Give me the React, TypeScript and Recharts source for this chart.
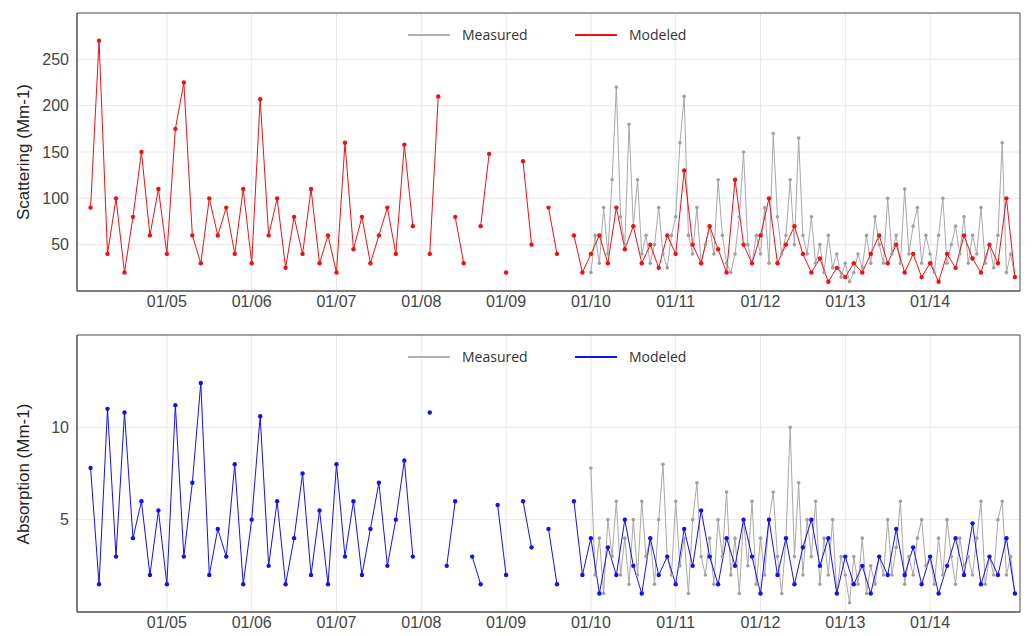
import React from "react";
import { ComposedChart, Line, XAxis, YAxis, CartesianGrid, ReferenceArea } from "recharts";

// x positions are months (5 = 01/05 ...), sampled every 0.1 (modeled) / 0.05 (measured)
const monthTicks = [5, 6, 7, 8, 9, 10, 11, 12, 13, 14];
const modeledStart = 4.1;
const measuredStart = 10.0;

const scatModeled = [
  90, 270, 40, 100, 20, 80, 150, 60, 110, 40,
  175, 225, 60, 30, 100, 60, 90, 40, 110, 30,
  207, 60, 100, 25, 80, 40, 110, 30, 60, 20,
  160, 45, 80, 30, 60, 90, 40, 158, 70, null,
  40, 210, null, 80, 30, null, 70, 148, null, 20,
  null, 140, 50, null, 90, 40, null, 60, 20, 40,
  60, 30, 90, 45, 70, 30, 50, 25, 60, 40,
  130, 50, 30, 70, 45, 20, 120, 50, 30, 60,
  100, 30, 50, 70, 40, 20, 35, 10, 25, 15,
  30, 20, 40, 60, 30, 50, 20, 40, 15, 30,
  10, 40, 25, 60, 35, 20, 50, 30, 100, 15,
];
const scatMeasured = [
  20, 60, 30, 90, 40, 120, 220, 80, 50, 180,
  70, 120, 40, 60, 30, 50, 90, 40, 25, 60,
  80, 160, 210, 60, 40, 90, 30, 50, 70, 40,
  120, 60, 30, 20, 40, 80, 150, 50, 30, 60,
  40, 90, 30, 170, 80, 40, 60, 120, 50, 165,
  60, 40, 80, 30, 50, 20, 60, 25, 40, 15,
  30, 10, 20, 40, 25, 60, 30, 80, 50, 30,
  100, 40, 60, 30, 110, 40, 70, 90, 30, 60,
  40, 20, 60, 100, 30, 50, 70, 40, 80, 30,
  60, 40, 90, 30, 50, 25, 60, 160, 20, 40, 15,
];
const absModeled = [
  7.8, 1.5, 11.0, 3.0, 10.8, 4.0, 6.0, 2.0, 5.5, 1.5,
  11.2, 3.0, 7.0, 12.4, 2.0, 4.5, 3.0, 8.0, 1.5, 5.0,
  10.6, 2.5, 6.0, 1.5, 4.0, 7.5, 2.0, 5.5, 1.5, 8.0,
  3.0, 6.0, 2.0, 4.5, 7.0, 2.5, 5.0, 8.2, 3.0, null,
  10.8, null, 2.5, 6.0, null, 3.0, 1.5, null, 5.8, 2.0,
  null, 6.0, 3.5, null, 4.5, 1.5, null, 6.0, 2.0, 4.0,
  1.0, 3.5, 2.0, 5.0, 2.5, 1.0, 4.0, 2.0, 3.0, 1.5,
  4.5, 2.5, 5.5, 3.0, 1.5, 4.0, 2.5, 5.0, 3.0, 1.0,
  5.0, 2.0, 4.0, 1.5, 3.5, 5.0, 2.5, 4.0, 1.0, 3.0,
  1.5, 2.5, 1.0, 3.0, 2.0, 4.5, 2.0, 3.5, 1.5, 3.0,
  1.0, 2.5, 4.0, 2.0, 4.8, 1.5, 3.0, 2.0, 4.0, 1.0,
];
const absMeasured = [
  7.8, 2, 4, 1, 5, 3, 6, 2, 4, 1.5,
  5, 2, 6, 3, 4, 1.5, 5, 8, 3, 2,
  6, 2.5, 4, 1, 5, 7, 3, 2, 4, 1.5,
  5, 3, 6.5, 2, 4, 1, 5, 2.5, 6, 1.5,
  4, 2, 5, 6.5, 3, 1, 4, 10, 3, 7,
  2, 5, 3, 6, 1.5, 4, 2, 5, 1, 3,
  2, 0.5, 3, 1.5, 4, 1, 2.5, 1.5, 3, 2,
  5, 2, 3.5, 6, 1.5, 3, 2, 4, 5, 2.5,
  3, 1.5, 4, 2, 5, 3, 1.5, 4, 2.5, 3,
  2, 4, 6, 1.5, 3, 2, 5, 6, 2, 3, 1,
];

const toRows = (vals: (number | null)[], start: number, step: number) =>
  vals.map((v, i) => ({ x: +(start + i * step).toFixed(2), y: v }));

const X_DOMAIN = [3.94, 15.06];
const tickStyle = { fill: "#444", fontSize: 16, fontFamily: "Liberation Sans, Arial" };

function Panel({ modeled, measured, color, yDomain, yTicks, label, top, height, marginTop, xHeight }: any) {
  const plotH = height - marginTop - xHeight;
  return (
    <div style={{ position: "absolute", left: 0, top, width: 1035, height }}>
      <ComposedChart width={1035} height={height} margin={{ top: marginTop, right: 15, left: 0, bottom: 0 }}>
        <CartesianGrid stroke="#e8e8e8" />
        <XAxis type="number" dataKey="x" domain={X_DOMAIN} ticks={monthTicks} allowDataOverflow
          tickFormatter={(m: number) => "01/" + String(m).padStart(2, "0")}
          tick={{ ...tickStyle, dy: -3 }} height={xHeight} stroke="#555" tickLine={false} />
        <YAxis type="number" domain={yDomain} ticks={yTicks} allowDataOverflow width={77}
          tick={tickStyle} stroke="#555" tickLine={false} />
        <ReferenceArea x1={X_DOMAIN[0]} x2={X_DOMAIN[1]} y1={yDomain[0]} y2={yDomain[1]} fill="none" stroke="#555" />
        <Line data={measured} dataKey="y" stroke="#a8a8a8" strokeWidth={1} isAnimationActive={false}
          dot={{ r: 1.8, fill: "#a0a0a0", stroke: "none" }} />
        <Line data={modeled} dataKey="y" stroke={color} strokeWidth={1} isAnimationActive={false}
          dot={{ r: 2.2, fill: color, stroke: "none" }} />
      </ComposedChart>
      <div style={{ position: "absolute", left: 24, top: marginTop + plotH / 2, transform: "translate(-50%, -50%) rotate(-90deg)",
        whiteSpace: "nowrap", fontFamily: "Liberation Sans, Arial", fontSize: 17, color: "#222" }}>{label}</div>
      <div style={{ position: "absolute", left: 408, top: marginTop + 12, display: "flex", alignItems: "center",
        fontFamily: "Open Sans", fontSize: 14, color: "#333" }}>
        <span style={{ width: 42, height: 2, background: "#b0b0b0", marginRight: 12 }} />
        <span style={{ width: 113 }}>Measured</span>
        <span style={{ width: 42, height: 2, background: color, marginRight: 12 }} />
        <span>Modeled</span>
      </div>
    </div>
  );
}

export default function App() {
  return (
    <div style={{ position: "relative", margin: -8, width: 1035, height: 636, background: "#fff" }}>
      <Panel modeled={toRows(scatModeled, modeledStart, 0.1)} measured={toRows(scatMeasured, measuredStart, 0.05)}
        color="#ee1111" yDomain={[0, 300]} yTicks={[50, 100, 150, 200, 250]} label="Scattering (Mm-1)"
        top={0} height={320} marginTop={13} xHeight={29} />
      <Panel modeled={toRows(absModeled, modeledStart, 0.1)} measured={toRows(absMeasured, measuredStart, 0.05)}
        color="#1111ee" yDomain={[0, 15]} yTicks={[5, 10]} label="Absorption (Mm-1)"
        top={320} height={316} marginTop={15} xHeight={24} />
    </div>
  );
}
